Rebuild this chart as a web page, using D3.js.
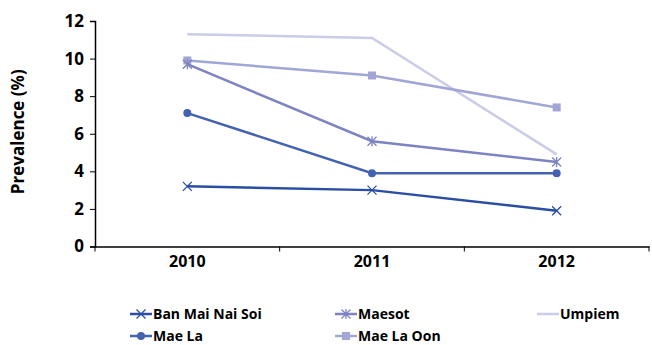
<!DOCTYPE html>
<html>
  <head>
    <meta charset="utf-8">
    <script src="https://d3js.org/d3.v7.min.js"></script>
    <style>
      body { margin: 0; background: #fff; }
      text { font-family: "Open Sans", sans-serif; font-weight: bold; fill: #000; }
    </style>
  </head>
  <body>
    <script>
      // chart data
      var years = ["2010", "2011", "2012"];
      var seriesNames = ["Ban Mai Nai Soi", "Mae La", "Maesot", "Mae La Oon", "Umpiem"];
      var banMaiNaiSoi = [3.2, 3.0, 1.9];
      var maeLa = [7.1, 3.9, 3.9];
      var maesot = [9.7, 5.6, 4.5];
      var maeLaOon = [9.9, 9.1, 7.4];
      var umpiem = [11.3, 11.1, 4.9];
      var yTicks = [0, 2, 4, 6, 8, 10, 12];

      // plot area (note: "top" is reserved on window, so use own names)
      var w = 652, h = 345;
      var plotLeft = 95, plotRight = 649, plotTop = 21, plotBottom = 246.5;

      var svg = d3.select("body").append("svg")
        .attr("width", w)
        .attr("height", h);

      var x = d3.scaleBand().domain(years).range([plotLeft, plotRight]);
      var y = d3.scaleLinear().domain([0, 12]).range([plotBottom, plotTop]);

      // series styles: colour and marker
      var series = [
        { name: seriesNames[0], values: banMaiNaiSoi, color: "#2a4ea3", marker: "x" },
        { name: seriesNames[1], values: maeLa, color: "#4462b2", marker: "circle" },
        { name: seriesNames[2], values: maesot, color: "#7d83c3", marker: "star" },
        { name: seriesNames[3], values: maeLaOon, color: "#a2a6d6", marker: "square" },
        { name: seriesNames[4], values: umpiem, color: "#cacce8", marker: "none" }
      ];

      // axes
      var yAxis = d3.axisLeft(y).tickValues(yTicks).tickSize(5).tickPadding(6);
      var gy = svg.append("g")
        .attr("transform", "translate(" + plotLeft + ",0)")
        .call(yAxis);
      gy.selectAll("text").style("font-size", "17px");

      var xAxis = d3.axisBottom(x).tickSize(0).tickPadding(9);
      var gx = svg.append("g")
        .attr("transform", "translate(0," + plotBottom + ")")
        .call(xAxis);
      gx.selectAll("text").style("font-size", "16px");
      // category boundary ticks
      var bounds = years.map(function(d) { return x(d); }).concat([plotRight]);
      gx.selectAll(".bound").data(bounds).enter().append("line")
        .attr("class", "bound")
        .attr("x1", function(d) { return d; })
        .attr("x2", function(d) { return d; })
        .attr("y1", 0).attr("y2", 5)
        .attr("stroke", "#000");

      svg.selectAll(".domain").attr("stroke", "#000").attr("stroke-width", 1.5);
      svg.selectAll(".tick line").attr("stroke", "#000");

      // y axis title
      svg.append("text")
        .attr("transform", "translate(24," + ((plotTop + plotBottom) / 2 - 2) + ") rotate(-90)")
        .attr("text-anchor", "middle")
        .style("font-size", "17px")
        .text("Prevalence (%)");

      var cx = function(i) { return x(years[i]) + x.bandwidth() / 2; };

      var line = d3.line()
        .x(function(d, i) { return cx(i); })
        .y(function(d) { return y(d); });

      function drawMarker(g, type, px, py, color) {
        if (type === "x") {
          g.append("path")
            .attr("d", "M" + (px - 4.5) + "," + (py - 4.5) + "L" + (px + 4.5) + "," + (py + 4.5) +
                       "M" + (px - 4.5) + "," + (py + 4.5) + "L" + (px + 4.5) + "," + (py - 4.5))
            .attr("stroke", color).attr("stroke-width", 1.3).attr("fill", "none");
        } else if (type === "circle") {
          g.append("circle").attr("cx", px).attr("cy", py).attr("r", 4).attr("fill", color);
        } else if (type === "star") {
          g.append("path")
            .attr("d", "M" + (px - 4.5) + "," + (py - 4.5) + "L" + (px + 4.5) + "," + (py + 4.5) +
                       "M" + (px - 4.5) + "," + (py + 4.5) + "L" + (px + 4.5) + "," + (py - 4.5) +
                       "M" + px + "," + (py - 5) + "L" + px + "," + (py + 5))
            .attr("stroke", color).attr("stroke-width", 1.3).attr("fill", "none");
        } else if (type === "square") {
          g.append("rect").attr("x", px - 4).attr("y", py - 4)
            .attr("width", 8).attr("height", 8).attr("fill", color);
        }
      }

      // draw series, lightest first
      series.slice().reverse().forEach(function(s) {
        var g = svg.append("g");
        g.append("path")
          .datum(s.values)
          .attr("d", line)
          .attr("fill", "none")
          .attr("stroke", s.color)
          .attr("stroke-width", 2.5);
        s.values.forEach(function(v, i) {
          drawMarker(g, s.marker, cx(i), y(v), s.color);
        });
      });

      // legend
      var legendPos = [
        { x: 130, y: 314 }, { x: 130, y: 336 },
        { x: 335, y: 314 }, { x: 335, y: 336 },
        { x: 537, y: 314 }
      ];
      series.forEach(function(s, i) {
        var p = legendPos[i];
        var g = svg.append("g");
        g.append("line")
          .attr("x1", p.x).attr("x2", p.x + 22)
          .attr("y1", p.y).attr("y2", p.y)
          .attr("stroke", s.color).attr("stroke-width", 2.5);
        drawMarker(g, s.marker, p.x + 11, p.y, s.color);
        g.append("text")
          .attr("x", p.x + 23)
          .attr("y", p.y + 5)
          .style("font-size", "14px")
          .text(s.name);
      });
    </script>
  </body>
</html>
